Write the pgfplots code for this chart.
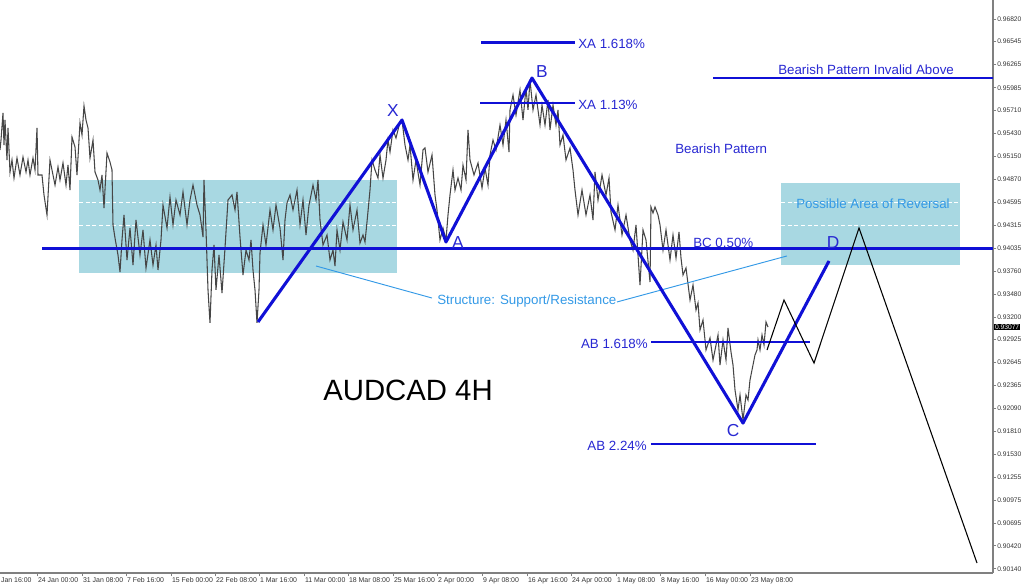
\documentclass[border=0pt]{standalone}
\usepackage{fontspec}
\setmainfont{Liberation Sans}
\usepackage{pgfplots}
\pgfplotsset{compat=1.18}
\usepackage{pgfplotstable}

\definecolor{patblue}{RGB}{16,16,214}
\definecolor{txtblue}{RGB}{40,40,210}
\definecolor{zone}{RGB}{168,216,226}
\definecolor{struct}{RGB}{51,153,230}
\definecolor{bars}{RGB}{70,70,70}

% AUDCAD 4H close path (x = chart position, p = price)
\pgfplotstableread{
x p
0 0.95229
1 0.95350
3 0.95678
4 0.95289
5 0.95593
7 0.95107
8 0.95496
10 0.94961
12 0.95107
14 0.94888
17 0.95131
20 0.94925
23 0.95143
26 0.94961
28 0.95107
30 0.94925
33 0.95131
35 0.94986
37 0.95496
38 0.94925
42 0.94925
44 0.94682
47 0.94439
50 0.95107
55 0.94803
58 0.95022
60 0.94864
63 0.95071
66 0.94803
68 0.95046
70 0.94742
72 0.95386
75 0.95265
77 0.94925
80 0.95557
82 0.95411
84 0.95763
86 0.95593
88 0.95496
90 0.95131
93 0.95350
95 0.94961
98 0.94864
100 0.94742
102 0.94925
104 0.94524
107 0.95192
110 0.95083
112 0.94986
113 0.94317
115 0.94159
118 0.93953
120 0.93746
122 0.94135
124 0.94439
127 0.93892
130 0.94281
133 0.93831
136 0.94378
140 0.93953
143 0.94257
146 0.93795
150 0.94135
153 0.93831
156 0.94074
158 0.93771
161 0.94135
163 0.94560
167 0.94281
170 0.94657
173 0.94317
176 0.94621
180 0.94439
183 0.94718
187 0.94317
190 0.94621
193 0.94803
197 0.94560
200 0.94439
203 0.94171
204 0.94864
206 0.94257
208 0.93528
210 0.93127
212 0.93771
214 0.94074
216 0.93528
219 0.93953
222 0.93491
225 0.94038
228 0.94621
232 0.94682
235 0.94500
237 0.94718
240 0.94171
243 0.93710
246 0.94013
249 0.93892
251 0.94135
253 0.93771
255 0.93528
257 0.93127
259 0.93528
260 0.93977
263 0.94317
266 0.94074
270 0.94500
273 0.94257
276 0.94560
280 0.94281
283 0.93892
285 0.94378
287 0.94585
290 0.94682
293 0.94500
297 0.94742
300 0.94317
303 0.94621
306 0.94196
309 0.94560
313 0.94803
316 0.94621
318 0.94864
320 0.94378
323 0.94074
327 0.94196
330 0.93892
333 0.94013
335 0.93819
337 0.94257
340 0.94013
343 0.94354
347 0.94135
350 0.94560
353 0.94257
357 0.94500
360 0.94098
363 0.94196
365 0.94110
367 0.94354
370 0.94742
372 0.95107
375 0.94986
378 0.94888
380 0.95168
383 0.94888
386 0.95107
388 0.95350
390 0.95204
393 0.95472
396 0.95374
400 0.95569
402 0.95593
405 0.95289
408 0.95107
410 0.95289
413 0.94864
416 0.95107
420 0.94803
423 0.95229
425 0.95253
428 0.94961
432 0.95168
435 0.94682
437 0.94500
440 0.94135
443 0.94281
446 0.94135
448 0.94439
450 0.94682
453 0.94986
455 0.94742
458 0.94888
461 0.94742
463 0.95046
466 0.94864
468 0.95472
470 0.95107
474 0.94925
478 0.95071
482 0.94767
485 0.95010
488 0.94803
490 0.95168
493 0.95350
496 0.95229
500 0.95532
503 0.95289
506 0.95593
509 0.95204
510 0.95715
513 0.95897
516 0.95654
520 0.95958
523 0.95593
526 0.95982
528 0.95715
530 0.96079
533 0.95715
536 0.95897
540 0.95532
542 0.95775
545 0.95532
548 0.95836
550 0.95472
553 0.95775
556 0.95532
558 0.95715
560 0.95289
563 0.95411
566 0.95107
570 0.95253
573 0.94986
575 0.94742
578 0.94439
582 0.94742
586 0.94439
590 0.94682
593 0.94378
595 0.94961
598 0.94621
602 0.94925
606 0.94682
609 0.94888
611 0.94475
615 0.94257
618 0.94560
622 0.94196
626 0.94439
630 0.94135
633 0.94013
636 0.94317
640 0.93588
643 0.94257
646 0.94135
650 0.93625
651 0.94536
653 0.94463
655 0.94536
658 0.94439
660 0.94317
663 0.94013
666 0.94257
670 0.93892
673 0.94196
676 0.93916
679 0.94232
681 0.93916
683 0.93710
686 0.93795
690 0.93406
693 0.93588
696 0.93285
698 0.93370
700 0.93042
703 0.93163
706 0.92799
710 0.92944
713 0.92677
716 0.92859
718 0.92981
720 0.92616
723 0.92920
726 0.92677
728 0.93066
731 0.92774
733 0.92616
735 0.92313
738 0.92070
740 0.92252
743 0.91948
746 0.92252
748 0.92191
750 0.92434
752 0.92556
755 0.92738
757 0.92799
758 0.92920
760 0.92799
762 0.92981
764 0.92859
766 0.93139
768 0.93077
}\price

\begin{document}
\begin{tikzpicture}[x=1pt,y=1pt]
\begin{axis}[
  at={(0,0)}, anchor=south west,
  scale only axis, width=744.75pt, height=429.75pt,
  xmin=0, xmax=993, ymin=0.90089, ymax=0.97051,
  clip=false,
  axis x line*=bottom, axis y line*=right,
  axis line style={-, gray, line width=0.9pt},
  tick align=outside, major tick length=2.5pt,
  tick style={gray, line width=0.5pt},
  xtick={37,82,126,171,215,259,304,348,393,437,482,527,571,616,660,705,750},
  xticklabels={24 Jan 00:00,31 Jan 08:00,7 Feb 16:00,15 Feb 00:00,22 Feb 08:00,1 Mar 16:00,11 Mar 00:00,18 Mar 08:00,25 Mar 16:00,2 Apr 00:00,9 Apr 08:00,16 Apr 16:00,24 Apr 00:00,1 May 08:00,8 May 16:00,16 May 00:00,23 May 08:00},
  ytick={0.96820,0.96545,0.96265,0.95985,0.95710,0.95430,0.95150,0.94870,0.94595,0.94315,0.94035,0.93760,0.93480,0.93200,0.92925,0.92645,0.92365,0.92090,0.91810,0.91530,0.91255,0.90975,0.90695,0.90420,0.90140},
  yticklabels={0.96820,0.96545,0.96265,0.95985,0.95710,0.95430,0.95150,0.94870,0.94595,0.94315,0.94035,0.93760,0.93480,0.93200,0.92925,0.92645,0.92365,0.92090,0.91810,0.91530,0.91255,0.90975,0.90695,0.90420,0.90140},
  xticklabel style={anchor=north west, inner sep=0pt, xshift=0.6pt, yshift=-0.5pt, font=\fontsize{5.2}{6}\selectfont, text=black!80},
  yticklabel style={anchor=west, inner sep=0pt, xshift=0.5pt, font=\fontsize{5}{6}\selectfont, text=black!80},
]
% zones
\addplot[draw=none, fill=zone] coordinates {(79,0.93734)(397,0.93734)(397,0.94864)(79,0.94864)} -- cycle;
\addplot[draw=none, fill=zone] coordinates {(781,0.93831)(960,0.93831)(960,0.94828)(781,0.94828)} -- cycle;
\addplot[white, densely dashed, line width=0.4pt] coordinates {(79,0.94595)(397,0.94595)};
\addplot[white, densely dashed, line width=0.4pt] coordinates {(79,0.94315)(397,0.94315)};
\addplot[white, densely dashed, line width=0.4pt] coordinates {(781,0.94595)(960,0.94595)};
\addplot[white, densely dashed, line width=0.4pt] coordinates {(781,0.94315)(960,0.94315)};

% price
\addplot[bars, line width=0.8pt, line join=miter] table[x=x, y=p] {\price};

% structure line
\addplot[struct, line width=0.7pt] coordinates {(316,0.93819)(432,0.93430)};
\addplot[struct, line width=0.7pt] coordinates {(617,0.93382)(787,0.93941)};

% levels
\addplot[patblue, line width=2.2pt] coordinates {(42,0.94035)(993,0.94035)};
\addplot[patblue, line width=1.6pt] coordinates {(713,0.96103)(993,0.96103)};
\addplot[patblue, line width=2pt] coordinates {(481,0.96535)(575,0.96535)};
\addplot[patblue, line width=2pt] coordinates {(480,0.95800)(575,0.95800)};
\addplot[patblue, line width=2pt] coordinates {(651,0.92896)(810,0.92896)};
\addplot[patblue, line width=2pt] coordinates {(651,0.91656)(816,0.91656)};

% pattern
\addplot[patblue, line width=2.3pt, line join=round] coordinates {(258,0.93139)(402,0.95593)(446,0.94111)(532,0.96103)(743,0.91911)(829,0.93880)};
% projection
\addplot[black, line width=0.8pt] coordinates {(767,0.92798)(784,0.93406)(814,0.92640)(859,0.94281)(977,0.90210)};

\begin{scope}[every node/.style={inner sep=0pt, font=\fontsize{10}{12}\selectfont}]
\node[anchor=west, text=txtblue] at (axis cs:578,0.96516) {XA 1.618\%};
\node[anchor=west, text=txtblue] at (axis cs:578,0.95775) {XA 1.13\%};
\node[anchor=west, text=txtblue] at (axis cs:778,0.96201) {Bearish Pattern Invalid Above};
\node[anchor=west, text=txtblue] at (axis cs:675,0.95241) {Bearish Pattern};
\node[anchor=west, text=struct] at (axis cs:796,0.94572) {Possible Area of Reversal};
\node[anchor=west, text=txtblue] at (axis cs:693,0.94099) {BC 0.50\%};
\node[anchor=east, text=txtblue] at (axis cs:648,0.92871) {AB 1.618\%};
\node[anchor=east, text=txtblue] at (axis cs:647,0.91632) {AB 2.24\%};
\node[anchor=west, text=struct] at (axis cs:437,0.93394) {Structure: Support/Resistance};
\node[anchor=west, text=black, font=\fontsize{22}{26}\selectfont] at (axis cs:323,0.92313) {AUDCAD 4H};
\node[text=txtblue, font=\fontsize{13}{15}\selectfont] at (axis cs:393,0.95702) {X};
\node[text=txtblue, font=\fontsize{13}{15}\selectfont] at (axis cs:458,0.94110) {A};
\node[text=txtblue, font=\fontsize{13}{15}\selectfont] at (axis cs:542,0.96176) {B};
\node[text=txtblue, font=\fontsize{13}{15}\selectfont] at (axis cs:733,0.91826) {C};
\node[text=txtblue, font=\fontsize{13}{15}\selectfont] at (axis cs:833,0.94110) {D};
\end{scope}
% current price tag and the partly visible first date label
\node[anchor=west, fill=black, text=white, inner sep=0.6pt, font=\fontsize{5}{6}\selectfont] at (axis cs:994,0.93077) {0.93077};
\node[anchor=north west, inner sep=0pt, font=\fontsize{5.2}{6}\selectfont, text=black!80] at ([xshift=0.6pt,yshift=-3pt]axis cs:0,0.90089) {Jan 16:00};
\end{axis}
\pgfresetboundingbox
\path[use as bounding box] (0,-11.25) rectangle (768,429.75);
\end{tikzpicture}
\end{document}
